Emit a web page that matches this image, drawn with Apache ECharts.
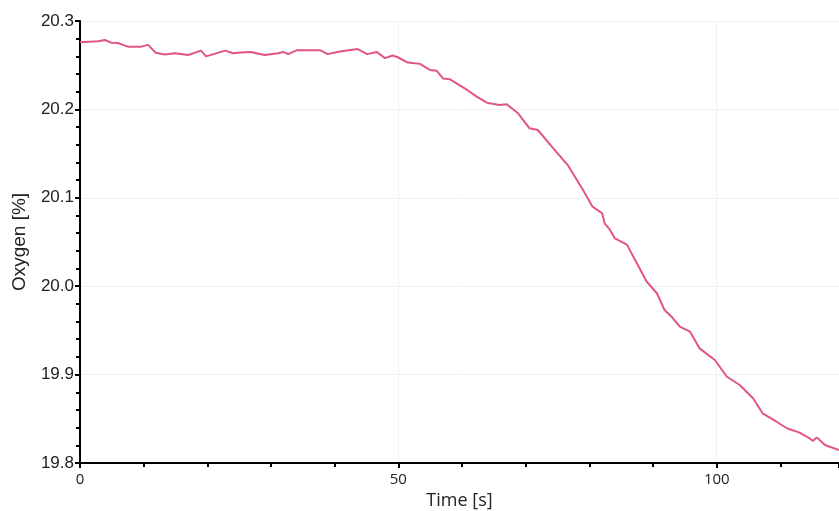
<!DOCTYPE html>
<html>
<head>
<meta charset="utf-8">
<script src="https://cdn.jsdelivr.net/npm/echarts@6/dist/echarts.min.js"></script>
<style>
html,body{margin:0;padding:0;background:#fff;}
#chart{width:839px;height:511px;}
</style>
</head>
<body>
<div id="chart"></div>
<script>
const time = [0, 2.8, 3.9, 4.9, 6.0, 7.5, 9.6, 10.7, 11.9, 13.3, 14.9, 17.0, 19.0, 19.8, 22.8, 24.0, 25.3, 26.8, 29.0, 31.1, 31.9, 32.7, 34.1, 37.7, 38.9, 40.4, 41.9, 43.6, 45.1, 46.6, 47.9, 49.1, 49.9, 51.5, 53.4, 55.0, 56.0, 57.0, 58.1, 60.8, 62.3, 63.9, 65.9, 67.0, 68.8, 70.6, 71.9, 74.1, 76.6, 79.0, 80.5, 82.0, 82.4, 83.2, 84.0, 85.9, 89.0, 90.6, 91.8, 92.9, 94.2, 95.8, 97.3, 99.7, 101.6, 103.6, 105.7, 107.2, 109.4, 111.0, 113.0, 114.6, 115.1, 115.7, 117.0, 119.2];
const oxygen = [20.276, 20.277, 20.2785, 20.2755, 20.275, 20.271, 20.271, 20.273, 20.264, 20.262, 20.2635, 20.2615, 20.2665, 20.26, 20.2665, 20.2635, 20.2645, 20.265, 20.2615, 20.2635, 20.265, 20.2625, 20.267, 20.267, 20.2625, 20.265, 20.2665, 20.2683, 20.2625, 20.265, 20.258, 20.261, 20.259, 20.253, 20.2515, 20.2445, 20.2438, 20.235, 20.234, 20.222, 20.2144, 20.2076, 20.205, 20.2058, 20.1956, 20.1786, 20.1767, 20.1578, 20.137, 20.1088, 20.09, 20.0825, 20.071, 20.064, 20.054, 20.047, 20.0051, 19.992, 19.9731, 19.9655, 19.9542, 19.9485, 19.9297, 19.9165, 19.8976, 19.8882, 19.8732, 19.8562, 19.8467, 19.8393, 19.8343, 19.8279, 19.8249, 19.829, 19.8204, 19.8147];
const xTicks = [0, 50, 100];
const yTicks = [19.8, 19.9, 20.0, 20.1, 20.2, 20.3];

const chart = echarts.init(document.getElementById('chart'));
chart.setOption({
  animation: false,
  grid: {left: 80, right: 0, top: 21, bottom: 48, containLabel: false, outerBoundsMode: 'none'},
  xAxis: {
    type: 'value',
    min: 0, max: 119.2, interval: 50,
    name: 'Time [s]', nameLocation: 'middle', nameGap: 28,
    nameTextStyle: {fontFamily: 'Open Sans', fontSize: 18, color: '#222'},
    axisLine: {show: true, lineStyle: {color: '#000', width: 2}},
    axisTick: {show: true, length: 5, lineStyle: {color: '#000', width: 2}},
    minorTick: {show: true, splitNumber: 5, length: 4, lineStyle: {color: '#000', width: 2}},
    axisLabel: {fontFamily: 'Open Sans', fontSize: 15, color: '#222', margin: 9, showMaxLabel: false,
      formatter: v => xTicks.includes(v) ? String(v) : ''},
    splitLine: {show: true, lineStyle: {color: '#f0f0f0', width: 1}}
  },
  yAxis: {
    type: 'value',
    min: 19.8, max: 20.3, interval: 0.1,
    name: 'Oxygen [%]', nameLocation: 'middle', nameGap: 51,
    nameTextStyle: {fontFamily: 'Liberation Sans', fontSize: 19, color: '#222'},
    axisLine: {show: true, lineStyle: {color: '#000', width: 2}},
    axisTick: {show: true, length: 5, lineStyle: {color: '#000', width: 2}},
    minorTick: {show: true, splitNumber: 5, length: 4, lineStyle: {color: '#000', width: 2}},
    axisLabel: {fontFamily: 'Liberation Sans', fontSize: 17, color: '#222', margin: 6,
      formatter: v => {
        const t = yTicks.find(y => Math.abs(y - v) < 1e-6);
        return t === undefined ? '' : t.toFixed(1);
      }},
    splitLine: {show: true, lineStyle: {color: '#f0f0f0', width: 1}}
  },
  series: [{
    type: 'line',
    data: time.map((t, i) => [t, oxygen[i]]),
    showSymbol: false,
    smooth: false,
    lineStyle: {color: '#e0567c', width: 2},
    clip: true
  }]
});
</script>
</body>
</html>
